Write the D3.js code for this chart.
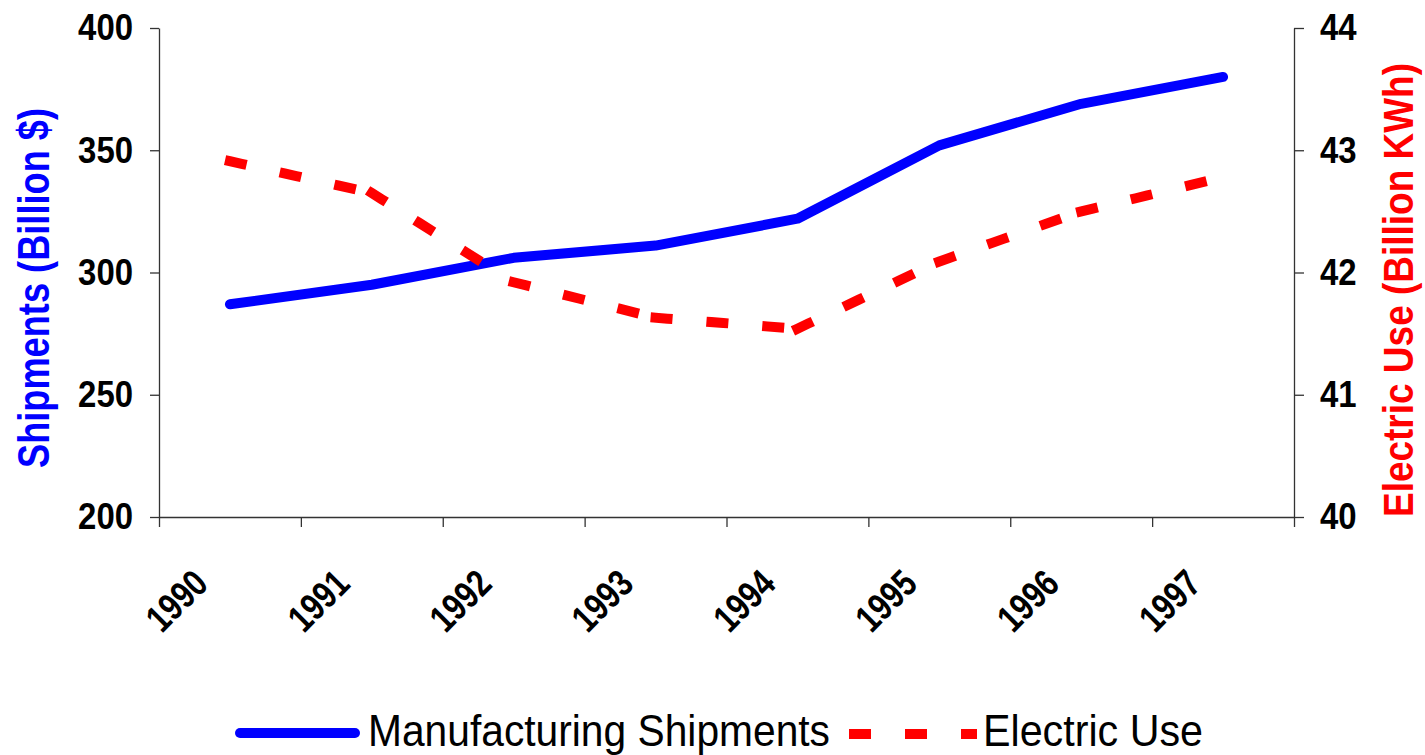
<!DOCTYPE html>
<html>
<head>
<meta charset="utf-8">
<script src="https://cdn.jsdelivr.net/npm/d3@7"></script>
<style>
  body { margin: 0; background: #fff; }
  text { font-family: "Liberation Sans", Arial, sans-serif; }
</style>
</head>
<body>
<div id="chart"></div>
<script>
// Data
const years = ["1990", "1991", "1992", "1993", "1994", "1995", "1996", "1997"];
const shipments = [287, 295, 306, 311, 322, 352, 369, 380];
const electric = [42.91, 42.65, 41.92, 41.63, 41.54, 42.09, 42.5, 42.78];
const leftTicks = [200, 250, 300, 350, 400];
const rightTicks = [40, 41, 42, 43, 44];
const seriesNames = ["Manufacturing Shipments", "Electric Use"];

const width = 1425;
const height = 755;
const plot = { left: 159, right: 1294, top: 28, bottom: 517 };

const svg = d3.select("#chart").append("svg")
    .attr("width", width)
    .attr("height", height);

// Scales
const x = d3.scaleBand().domain(years).range([plot.left, plot.right]);
const cx = d => x(d) + x.bandwidth() / 2;
const yL = d3.scaleLinear().domain([200, 400]).range([plot.bottom, plot.top]);
const yR = d3.scaleLinear().domain([40, 44]).range([plot.bottom, plot.top]);

// squeeze text horizontally, the original fonts are narrower
function squeeze(sel, k) {
    sel.each(function() {
        const w = this.getComputedTextLength();
        d3.select(this).attr("textLength", w * k).attr("lengthAdjust", "spacingAndGlyphs");
    });
}

function styleAxis(g) {
    g.attr("font-family", "Liberation Sans, Arial, sans-serif")
        .attr("font-size", 37)
        .attr("font-weight", "bold");
    g.selectAll("path, line").attr("stroke", "#333").attr("stroke-width", 1.3);
    g.selectAll("text").attr("fill", "#000");
}

// Left axis
const gL = svg.append("g")
    .attr("transform", `translate(${plot.left},0)`)
    .call(d3.axisLeft(yL).tickValues(leftTicks).tickFormat(d3.format("d"))
        .tickSize(9).tickPadding(17).tickSizeOuter(0))
    .call(styleAxis);
squeeze(gL.selectAll("text"), 0.89);

// Right axis
const gR = svg.append("g")
    .attr("transform", `translate(${plot.right},0)`)
    .call(d3.axisRight(yR).tickValues(rightTicks).tickFormat(d3.format("d"))
        .tickSize(10).tickPadding(16).tickSizeOuter(0))
    .call(styleAxis);
squeeze(gR.selectAll("text"), 0.89);

// Bottom axis: ticks on the category boundaries
const xEdges = d3.scaleLinear().domain([0, years.length]).range([plot.left, plot.right]);
svg.append("g")
    .attr("transform", `translate(0,${plot.bottom})`)
    .call(d3.axisBottom(xEdges).tickValues(d3.range(years.length + 1)).tickFormat("")
        .tickSize(10).tickSizeOuter(0))
    .call(styleAxis);

// Rotated year labels
svg.selectAll(".xlabel")
    .data(years)
    .join("text")
    .attr("class", "xlabel")
    .attr("transform", d => `translate(${cx(d) - 20},586) rotate(-45)`)
    .attr("text-anchor", "end")
    .attr("font-size", 38)
    .attr("font-weight", "bold")
    .attr("fill", "#000")
    .text(d => d)
    .attr("textLength", 68)
    .attr("lengthAdjust", "spacingAndGlyphs");

// Axis titles
svg.append("text")
    .attr("transform", "translate(49,288) rotate(-90)")
    .attr("text-anchor", "middle")
    .attr("font-size", 44)
    .attr("font-weight", "bold")
    .attr("fill", "#0000ff")
    .attr("textLength", 360)
    .attr("lengthAdjust", "spacingAndGlyphs")
    .text("Shipments (Billion $)");

svg.append("text")
    .attr("transform", "translate(1413,290) rotate(-90)")
    .attr("text-anchor", "middle")
    .attr("font-size", 42)
    .attr("font-weight", "bold")
    .attr("fill", "#ff0000")
    .attr("textLength", 454)
    .attr("lengthAdjust", "spacingAndGlyphs")
    .text("Electric Use (Billion KWh)");

// Shipments line
const lineL = d3.line()
    .x((d, i) => cx(years[i]))
    .y(d => yL(d));

svg.append("path")
    .datum(shipments)
    .attr("d", lineL)
    .attr("fill", "none")
    .attr("stroke", "#0000ff")
    .attr("stroke-width", 10)
    .attr("stroke-linejoin", "round")
    .attr("stroke-linecap", "round");

// Electric use line, dash pattern restarts at every point
const ePts = electric.map((v, i) => [cx(years[i]), yR(v)]);
svg.selectAll(".eseg")
    .data(d3.pairs(ePts))
    .join("path")
    .attr("class", "eseg")
    .attr("d", d => d3.line()(d))
    .attr("fill", "none")
    .attr("stroke", "#ff0000")
    .attr("stroke-width", 10)
    .attr("stroke-linecap", "square")
    .attr("stroke-dasharray", "12,44");

// Legend
const legend = svg.append("g");
legend.append("line")
    .attr("x1", 240).attr("x2", 355)
    .attr("y1", 733).attr("y2", 733)
    .attr("stroke", "#0000ff")
    .attr("stroke-width", 10)
    .attr("stroke-linecap", "round");
legend.append("text")
    .attr("x", 368).attr("y", 746)
    .attr("font-size", 44)
    .attr("fill", "#000")
    .attr("textLength", 462)
    .attr("lengthAdjust", "spacingAndGlyphs")
    .text(seriesNames[0]);

legend.append("line")
    .attr("x1", 854).attr("x2", 972)
    .attr("y1", 734).attr("y2", 734)
    .attr("stroke", "#ff0000")
    .attr("stroke-width", 10)
    .attr("stroke-linecap", "square")
    .attr("stroke-dasharray", "12,44");
legend.append("text")
    .attr("x", 983).attr("y", 746)
    .attr("font-size", 44)
    .attr("fill", "#000")
    .attr("textLength", 220)
    .attr("lengthAdjust", "spacingAndGlyphs")
    .text(seriesNames[1]);
</script>
</body>
</html>
